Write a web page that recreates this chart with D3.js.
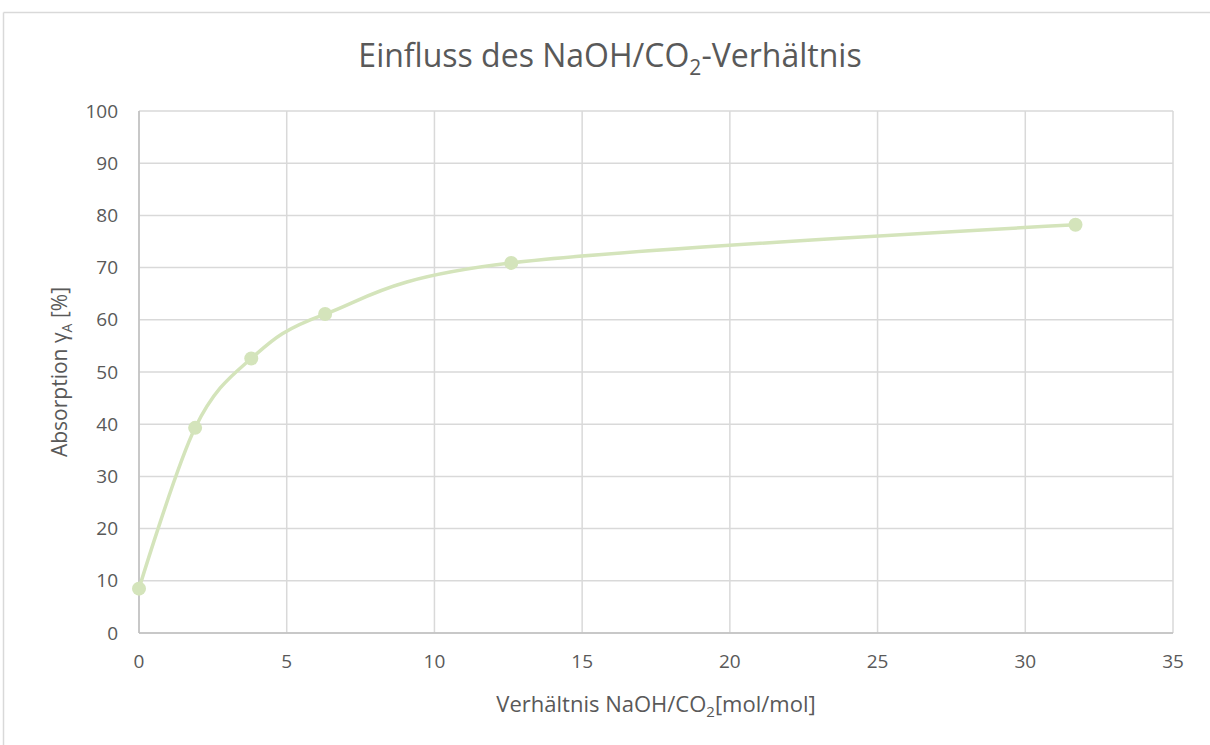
<!DOCTYPE html>
<html><head><meta charset="utf-8">
<script src="https://cdn.jsdelivr.net/npm/d3@7"></script>
<style>body{margin:0;background:#fff;} svg{display:block;} text{font-family:"Open Sans","Noto Sans",sans-serif;}</style>
</head><body>
<svg id="c" width="1210" height="745"></svg>
<script>
const ratio = [0, 1.9, 3.8, 6.3, 12.6, 31.7];
const absorption = [8.5, 39.3, 52.6, 61.1, 70.9, 78.2];
const xTicks = [0, 5, 10, 15, 20, 25, 30, 35];
const yTicks = [0, 10, 20, 30, 40, 50, 60, 70, 80, 90, 100];

const svg = d3.select("#c");
const M = {l:139, r:1173, t:111, b:633};
const x = d3.scaleLinear().domain([0,35]).range([M.l, M.r]);
const y = d3.scaleLinear().domain([0,100]).range([M.b, M.t]);
const grid = "#d9d9d9", txt = "#595959", col = "#d4e4bb";

// outer chart border (top & left visible)
svg.append("line").attr("x1",3.5).attr("x2",1210).attr("y1",12.5).attr("y2",12.5).attr("stroke","#d9d9d9").attr("stroke-width",1.5);
svg.append("line").attr("x1",3.5).attr("x2",3.5).attr("y1",12.5).attr("y2",745).attr("stroke","#d9d9d9").attr("stroke-width",1.5);

// grid
const g = svg.append("g");
g.selectAll(".hy").data(yTicks).join("line").attr("x1",M.l).attr("x2",M.r)
  .attr("y1",d=>y(d)).attr("y2",d=>y(d)).attr("stroke",grid).attr("stroke-width",1.5);
g.selectAll(".vx").data(xTicks).join("line").attr("y1",M.t).attr("y2",M.b)
  .attr("x1",d=>x(d)).attr("x2",d=>x(d)).attr("stroke",grid).attr("stroke-width",1.5);
// axis lines
g.append("line").attr("x1",M.l).attr("x2",M.r).attr("y1",M.b).attr("y2",M.b).attr("stroke","#bfbfbf").attr("stroke-width",1.5);
g.append("line").attr("x1",M.l).attr("x2",M.l).attr("y1",M.t).attr("y2",M.b).attr("stroke","#bfbfbf").attr("stroke-width",1.5);

// tick labels
svg.append("g").selectAll("text").data(yTicks).join("text")
  .attr("x",M.l-21).attr("y",d=>y(d)).attr("dy","0.35em").attr("text-anchor","end")
  .attr("font-size",19).attr("fill",txt).text(d=>d);
svg.append("g").selectAll("text").data(xTicks).join("text")
  .attr("x",d=>x(d)).attr("y",M.b+35).attr("text-anchor","middle")
  .attr("font-size",19).attr("fill",txt).text(d=>d);

// title
const t = svg.append("text").attr("x",610).attr("y",67).attr("text-anchor","middle")
  .attr("font-size",32).attr("fill",txt);
t.append("tspan").text("Einfluss des NaOH/CO");
t.append("tspan").attr("font-size",21).attr("dy",8).text("2");
t.append("tspan").attr("dy",-8).text("-Verhältnis");

// x label
const xl = svg.append("text").attr("x",656).attr("y",712).attr("text-anchor","middle")
  .attr("font-size",22).attr("fill",txt);
xl.append("tspan").text("Verhältnis NaOH/CO");
xl.append("tspan").attr("font-size",15).attr("dy",5).text("2");
xl.append("tspan").attr("dy",-5).text("[mol/mol]");

// y label
const yl = svg.append("text").attr("transform","translate(67,372) rotate(-90)").attr("text-anchor","middle")
  .attr("font-size",21).attr("fill",txt);
yl.append("tspan").text("Absorption γ");
yl.append("tspan").attr("font-size",14).attr("dy",5).text("A");
yl.append("tspan").attr("dy",-5).text(" [%]");

// series
const pts = ratio.map((r,i)=>[r, absorption[i]]);
const line = d3.line().x(d=>x(d[0])).y(d=>y(d[1])).curve(d3.curveCatmullRom.alpha(0));
svg.append("path").datum(pts).attr("d",line).attr("fill","none").attr("stroke",col).attr("stroke-width",3.5);
svg.append("g").selectAll("circle").data(pts).join("circle")
  .attr("cx",d=>x(d[0])).attr("cy",d=>y(d[1])).attr("r",7).attr("fill",col);
</script>
</body></html>
